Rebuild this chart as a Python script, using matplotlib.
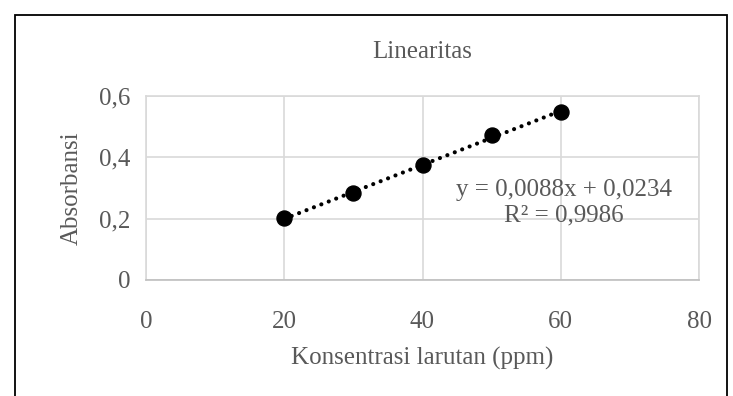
import numpy as np
import matplotlib.pyplot as plt
from matplotlib.patches import Rectangle

# data
konsentrasi = [20, 30, 40, 50, 60]
absorbansi = [0.201, 0.283, 0.375, 0.473, 0.548]
slope, intercept = 0.0088, 0.0234
x_ticks = [0, 20, 40, 60, 80]
y_ticks = [0, 0.2, 0.4, 0.6]
y_tick_labels = ["0", "0,2", "0,4", "0,6"]

grey = "#595959"
grid_col = "#d9d9d9"
plt.rcParams['font.family'] = ['Liberation Serif', 'DejaVu Serif']

fig = plt.figure(figsize=(7.33, 3.96), dpi=100)
ax = fig.add_axes([146 / 733, 1 - 280 / 396, (699 - 146) / 733, (280 - 96) / 396])

# trendline over the data range only, round dots
xs = np.array([min(konsentrasi), max(konsentrasi)])
ax.plot(xs, slope * xs + intercept, color='black', linestyle=(0, (0.01, 1.9)),
        linewidth=3.0, dash_capstyle='round', zorder=3)
ax.plot(konsentrasi, absorbansi, 'o', color='black', markersize=10.8, zorder=4)

ax.set_xlim(0, 80)
ax.set_ylim(0, 0.6)
ax.set_xticks(x_ticks)
ax.set_yticks(y_ticks)
ax.set_yticklabels(y_tick_labels)
ax.grid(True, color=grid_col, linewidth=1.2)
ax.set_axisbelow(True)
for s in ax.spines.values():
    s.set_color(grid_col)
    s.set_linewidth(1.2)
ax.spines['bottom'].set_color('#bfbfbf')
ax.tick_params(axis='y', length=0, labelsize=18, colors=grey, pad=11)
ax.tick_params(axis='x', length=0, labelsize=18, colors=grey, pad=22)

ax.set_title("Linearitas", fontsize=18, color=grey, pad=27)
ax.set_xlabel("Konsentrasi larutan (ppm)", fontsize=18, color=grey, labelpad=10)
ax.set_ylabel("Absorbansi", fontsize=18, color=grey, labelpad=12)

ax.text(0.756, 0.42, "y = 0,0088x + 0,0234\nR² = 0,9986", transform=ax.transAxes,
        ha='center', va='center', fontsize=18, color=grey, linespacing=1.2)

# outer chart border (bottom edge cut off)
fig.patches.append(Rectangle((15 / 733, -0.1), (727 - 15) / 733, 1.1 - 15 / 396,
                             transform=fig.transFigure, fill=False,
                             edgecolor='black', linewidth=1.3))

fig.savefig("out.png", dpi=100)
